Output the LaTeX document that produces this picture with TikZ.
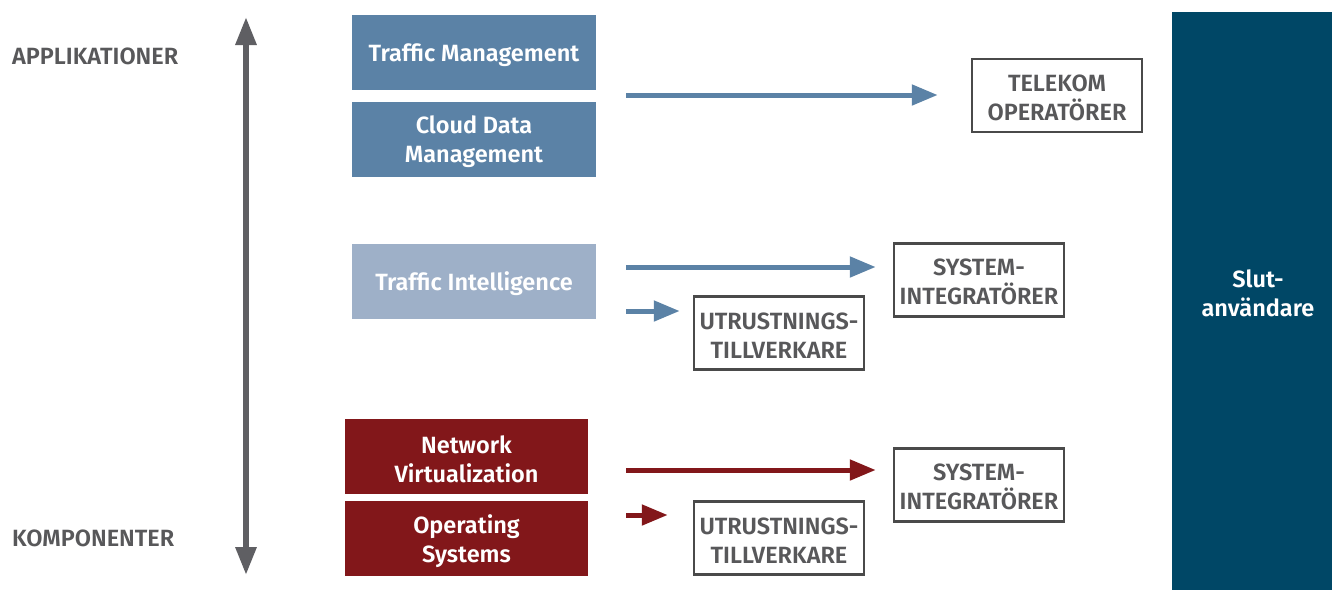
\documentclass[tikz,border=0pt]{standalone}
\usepackage{fontspec}
\setmainfont{Fira Sans}[BoldFont={Fira Sans SemiBold}]
\usetikzlibrary{arrows.meta}
\definecolor{bluebox}{HTML}{5B82A6}
\definecolor{lightbox}{HTML}{9EB0C8}
\definecolor{redbox}{HTML}{82171A}
\definecolor{navy}{HTML}{004766}
\definecolor{axisgray}{HTML}{5F5F63}
\definecolor{outlinegray}{HTML}{4A4A4A}
\definecolor{txtgray}{HTML}{58585A}
\begin{document}
\begin{tikzpicture}[x=1pt,y=-1pt,
  fnt/.style={font=\bfseries\fontsize{23.5}{29}\selectfont},
  fillbox/.style={minimum width=244pt,minimum height=75pt,inner sep=0pt},
  boxtext/.style={fnt,inner sep=0pt,align=center,text=white,yshift=-2.5pt},
  outbox/.style={draw=outlinegray,line width=2.5pt,minimum width=170pt,minimum height=73pt,inner sep=0pt,fill=white},
  outtext/.style={fnt,inner sep=0pt,align=center,text=txtgray,yshift=-2pt},
  sidelabel/.style={fnt,text=txtgray,anchor=west,inner sep=0pt},
  bluearrow/.style={draw=bluebox,line width=5pt,-{Triangle[length=26pt,width=20pt]}},
  redarrow/.style={draw=redbox,line width=5pt,-{Triangle[length=26pt,width=20pt]}},
  axisarrow/.style={draw=axisgray,line width=6pt,{Triangle[length=28pt,width=20pt]}-{Triangle[length=28pt,width=20pt]}}
]
\useasboundingbox (0,0) rectangle (1332,590);
% side labels
\node[sidelabel] (app) at (12,56) {APPLIKATIONER};
\node[sidelabel] (komp) at (12,538) {KOMPONENTER};
% axis
\coordinate (axtop) at (246,17);
\coordinate (axbot) at (246,575);
\draw[axisarrow] (axbot) -- (axtop);
% filled boxes
\node[fillbox,fill=bluebox] (tm) at (474,52.5) {};
\node[boxtext] (tmt) at (tm) {Traffic Management};
\node[fillbox,fill=bluebox] (cdm) at (474,139.5) {};
\node[boxtext] (cdmt) at (cdm) {Cloud Data\\Management};
\node[fillbox,fill=lightbox] (ti) at (474,281.5) {};
\node[boxtext] (tit) at (ti) {Traffic Intelligence};
\node[fillbox,fill=redbox,minimum width=243pt] (nv) at (466.5,456.5) {};
\node[boxtext] (nvt) at (nv) {Network\\Virtualization};
\node[fillbox,fill=redbox,minimum width=243pt] (os) at (466.5,538.5) {};
\node[boxtext] (ost) at (os) {Operating\\Systems};
% end users
\node[fill=navy,minimum width=160pt,minimum height=578pt,inner sep=0pt] (slut) at (1252,301) {};
\node[fnt,text=white,align=center,inner sep=0pt] (sluttext) at (1258,293) {Slut-\\användare};
% outline boxes
\node[outbox] (tel) at (1057,95.5) {};
\node[outtext] (telt) at (tel) {TELEKOM\\OPERATÖRER};
\node[outbox] (si1) at (979,280) {};
\node[outtext] (si1t) at (si1) {SYSTEM-\\INTEGRATÖRER};
\node[outbox] (ut1) at (779,333) {};
\node[outtext,yshift=-1pt] (ut1t) at (ut1) {UTRUSTNINGS-\\TILLVERKARE};
\node[outbox] (si2) at (979,485) {};
\node[outtext] (si2t) at (si2) {SYSTEM-\\INTEGRATÖRER};
\node[outbox] (ut2) at (779,538) {};
\node[outtext,yshift=-1pt] (ut2t) at (ut2) {UTRUSTNINGS-\\TILLVERKARE};
% arrow coordinates
\coordinate (a1s) at (626,95);
\coordinate (a2s) at (626,267);
\coordinate (a3s) at (626,311);
\coordinate (a4s) at (626,470);
\coordinate (a5s) at (626,515);
\draw[bluearrow,shorten >=33pt] (a1s) -- (a1s -| tel.west);
\draw[bluearrow,shorten >=17pt] (a2s) -- (a2s -| si1.west);
\draw[bluearrow,shorten >=13pt] (a3s) -- (a3s -| ut1.west);
\draw[redarrow,shorten >=17pt] (a4s) -- (a4s -| si2.west);
\draw[redarrow,shorten >=25pt] (a5s) -- (a5s -| ut2.west);
\end{tikzpicture}
\end{document}
